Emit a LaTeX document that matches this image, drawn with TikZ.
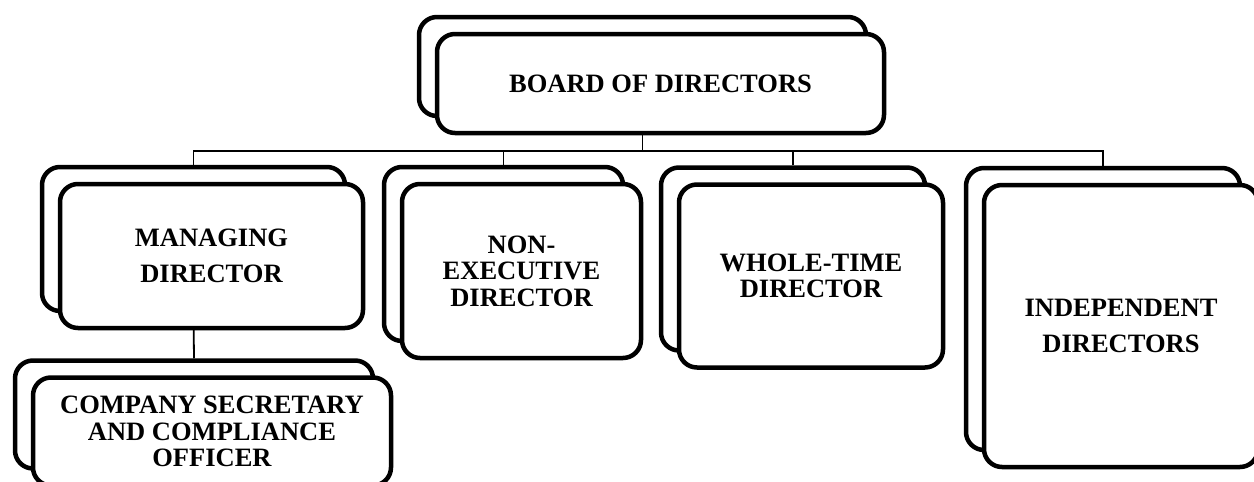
\documentclass[tikz,border=0pt]{standalone}
\usepackage{fontspec}
\setmainfont{Liberation Serif}

\begin{document}
\begin{tikzpicture}[x=1pt,y=-1pt,
    back/.style={draw,line width=4.5pt,rounded corners=18pt,fill=white},
    front/.style={back,align=center,inner sep=2pt,font=\fontsize{26.5}{26.5}\selectfont\bfseries},
    airy/.style={font=\fontsize{26.5}{36}\selectfont\bfseries},
    conn/.style={line width=1.8pt}]
    \useasboundingbox[fill=white] (0,0) rectangle (1254,482);
    % cards behind
    \node[back,minimum width=447,minimum height=99] (board) at (642.5,66.5) {};
    \node[back,minimum width=303,minimum height=144] (md) at (193.5,239) {};
    \node[back,minimum width=239,minimum height=174] (nonexec) at (503.5,254) {};
    \node[back,minimum width=264,minimum height=183] (whole) at (793,259) {};
    \node[back,minimum width=274,minimum height=282] (indep) at (1103,309) {};
    \node[back,minimum width=358,minimum height=108] (cs) at (194,414.5) {};
    % lines
    \coordinate (bus) at (642.5,151);
    \draw[conn] (board.south) -- (bus);
    \draw[conn] (md.north) |- (bus);
    \draw[conn] (nonexec.north) |- (bus);
    \draw[conn] (whole.north) |- (bus);
    \draw[conn] (indep.north) |- (bus);
    \draw[conn] (md.south) -- (cs.north);
    % cards in front
    \node[front,minimum width=447,minimum height=99] (boardf) at ([shift={(18,17)}]board) {BOARD OF DIRECTORS};
    \node[front,airy,minimum width=303,minimum height=144] (mdf) at ([shift={(18,17)}]md) {MANAGING\\DIRECTOR};
    \node[front,minimum width=239,minimum height=174] (nonexecf) at ([shift={(18,17)}]nonexec) {NON-\\EXECUTIVE\\DIRECTOR};
    \node[front,minimum width=264,minimum height=183] (wholef) at ([shift={(18,17)}]whole) {WHOLE-TIME\\DIRECTOR};
    \node[front,airy,minimum width=274,minimum height=282] (indepf) at ([shift={(18,17)}]indep) {INDEPENDENT\\DIRECTORS};
    \node[front,minimum width=358,minimum height=108] (csf) at ([shift={(18,17)}]cs) {COMPANY SECRETARY\\AND COMPLIANCE\\OFFICER};
\end{tikzpicture}
\end{document}
